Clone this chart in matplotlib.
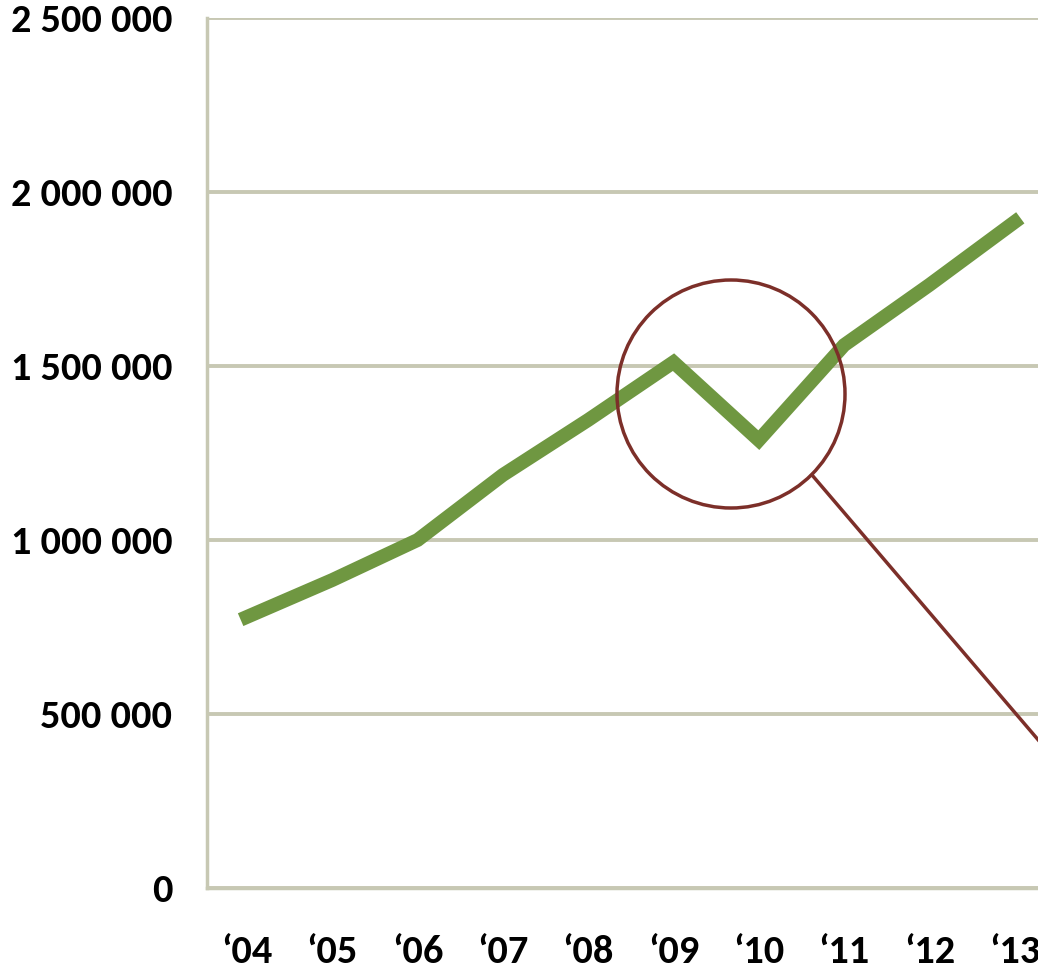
import numpy as np
import matplotlib.pyplot as plt
from matplotlib.patches import Circle
from matplotlib.lines import Line2D

plt.rcParams['font.family'] = ['Carlito', 'DejaVu Sans']

years = ['\u201804', '\u201805', '\u201806', '\u201807', '\u201808',
         '\u201809', '\u201810', '\u201811', '\u201812', '\u201813']
values = [779000, 885000, 1000000, 1187000, 1345000,
          1511000, 1287000, 1560000, 1733000, 1914000]
yticks = [0, 500000, 1000000, 1500000, 2000000, 2500000]
ylabels = ['0', '500 000', '1 000 000', '1 500 000', '2 000 000', '2 500 000']

grid_col = '#c7c8b3'
line_col = '#6f9741'
ring_col = '#7c2f29'

fig = plt.figure(figsize=(10.38, 9.8), dpi=100)
W, H = 1038, 980
# axes: left 207px, right at figure edge, top 18px, bottom 888px
ax = fig.add_axes([207 / W, (H - 888) / H, (W - 207) / W, (888 - 18) / H])

x = np.arange(len(years))
ax.plot(x, values, color=line_col, lw=10, solid_joinstyle='miter', zorder=3)

ax.set_ylim(0, 2500000)
ax.set_xlim(-40 / 85.3, (W - 247) / 85.3)
ax.set_yticks(yticks)
ax.set_yticklabels(ylabels, fontsize=29, fontweight='bold')
ax.set_xticks(x)
ax.set_xticklabels(years, fontsize=29, fontweight='bold')
ax.tick_params(axis='y', length=0, pad=25)
ax.tick_params(axis='x', length=0, pad=34)

ax.grid(axis='y', color=grid_col, lw=2.8, zorder=1)
ax.set_axisbelow(True)
for s in ['top', 'right']:
    ax.spines[s].set_visible(False)
for s in ['left', 'bottom']:
    ax.spines[s].set_color(grid_col)
    ax.spines[s].set_linewidth(2.5)

# highlight ring around the 2009-2010 dip, with a pointer line
ring = Circle((7.31, 5.86), 1.14, transform=fig.dpi_scale_trans,
              fill=False, edgecolor=ring_col, lw=2.5, zorder=5)
fig.patches.append(ring)
pointer = Line2D([8.12, 10.40], [5.05, 2.38], transform=fig.dpi_scale_trans,
                 color=ring_col, lw=2.5, zorder=5)
fig.lines.append(pointer)

plt.savefig('out.png', dpi=100)
